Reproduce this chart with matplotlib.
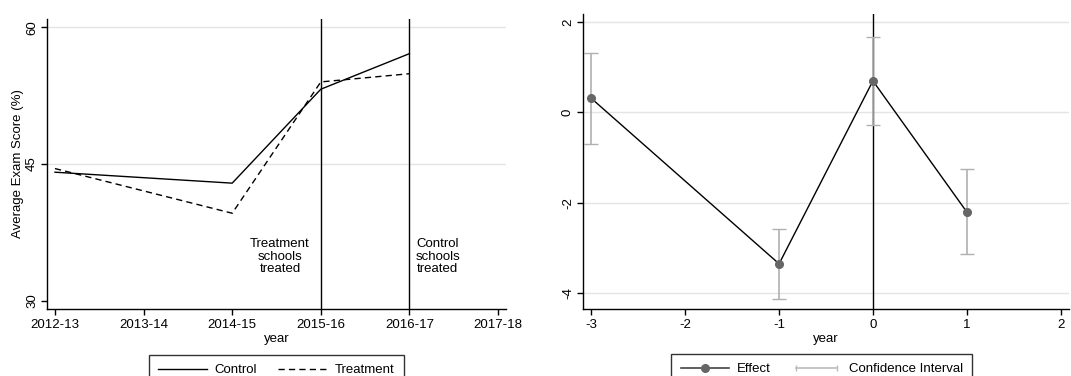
import matplotlib
matplotlib.use("Agg")
import matplotlib.pyplot as plt
from matplotlib.lines import Line2D
from matplotlib.legend_handler import HandlerLine2D

plt.rcParams['font.family'] = ['Liberation Sans', 'DejaVu Sans']
plt.rcParams['font.size'] = 9.5
plt.rcParams['axes.unicode_minus'] = False

# ---- Left panel data ----
years = ["2012-13", "2013-14", "2014-15", "2015-16", "2016-17", "2017-18"]
obs_years = ["2012-13", "2014-15", "2015-16", "2016-17"]
control = [44.1, 42.9, 53.2, 57.1]
treatment = [44.5, 39.6, 54.0, 54.9]
left_yticks = [30, 45, 60]
left_grid = [45, 60]
event_years = ["2015-16", "2016-17"]
event_labels = ["Treatment\nschools\ntreated", "Control\nschools\ntreated"]
event_label_x = [2.54, 4.32]
event_label_y = 34.85

# ---- Right panel data ----
rel_year = [-3, -1, 0, 1]
effect = [0.31, -3.35, 0.70, -2.20]
ci_low = [-0.70, -4.12, -0.27, -3.13]
ci_high = [1.32, -2.57, 1.67, -1.26]
right_xticks = [-3, -2, -1, 0, 1, 2]
right_yticks = [-4, -2, 0, 2]

fig = plt.figure(figsize=(10.71, 3.76), dpi=100)
ax1 = fig.add_axes([47/1071, 67/376, (506-47)/1071, (309-19)/376])
ax2 = fig.add_axes([583/1071, 67/376, (1069-583)/1071, (309-14)/376])

def style(ax):
    for s in ['top', 'right']:
        ax.spines[s].set_visible(False)
    for s in ['left', 'bottom']:
        ax.spines[s].set_linewidth(1.0)
        ax.spines[s].set_color('black')
    ax.tick_params(direction='out', length=4, width=1.0, colors='black', labelsize=9.5)
    ax.tick_params(axis='x', pad=3.5)
    ax.tick_params(axis='y', pad=2.5)

# Left
xpos = {y: i for i, y in enumerate(years)}
ox = [xpos[y] for y in obs_years]
for g in left_grid:
    ax1.axhline(g, color='#e4e4e4', lw=1.0, zorder=0)
ax1.plot(ox, control, color='black', lw=1.0, label='Control')
ax1.plot(ox, treatment, color='black', lw=1.0, dashes=(4.5, 3), label='Treatment')
for ev in event_years:
    ax1.axvline(xpos[ev], color='black', lw=1.0)
for lx, lt in zip(event_label_x, event_labels):
    ax1.text(lx, event_label_y, lt, ha='center', va='center', fontsize=9.5, linespacing=1.1)
ax1.set_xlim(-0.09, 5.09)
ax1.set_ylim(29.1, 60.9)
ax1.set_xticks(range(len(years)))
ax1.set_xticklabels(years)
ax1.set_yticks(left_yticks)
ax1.set_yticklabels([str(v) for v in left_yticks], rotation=90, va='center')
ax1.set_xlabel('year', labelpad=1)
ax1.set_ylabel('Average Exam Score (%)', labelpad=1.5)
style(ax1)

# Right
for g in right_yticks:
    ax2.axhline(g, color='#e4e4e4', lw=1.0, zorder=0)
ax2.axvline(0, color='black', lw=1.0, zorder=1)
yerr = [[e - l for e, l in zip(effect, ci_low)], [h - e for e, h in zip(effect, ci_high)]]
ax2.errorbar(rel_year, effect, yerr=yerr, fmt='none', ecolor='#b0b0b0', elinewidth=1.2,
             capsize=5, capthick=1.0, zorder=2)
ax2.plot(rel_year, effect, color='black', lw=1.0, zorder=3)
ax2.plot(rel_year, effect, 'o', color='#666666', ms=5.5, zorder=4)
ax2.set_xlim(-3.09, 2.09)
ax2.set_ylim(-4.35, 2.18)
ax2.set_xticks(right_xticks)
ax2.set_yticks(right_yticks)
ax2.set_yticklabels([str(v) for v in right_yticks], rotation=90, va='center')
ax2.set_xlabel('year', labelpad=1)
style(ax2)

# Legends
leg1 = fig.legend(handles=[Line2D([], [], color='black', lw=1.0, label='Control'),
                           Line2D([], [], color='black', lw=1.0, dashes=(4.5, 3), label='Treatment')],
                  loc='upper center', bbox_to_anchor=(276.5/1071, 1 - 355/376), ncol=2,
                  frameon=True, fancybox=False, edgecolor='black', handlelength=3.7,
                  handletextpad=0.6, columnspacing=1.6, borderpad=0.7, borderaxespad=0,
                  fontsize=9.5)
leg1.get_frame().set_linewidth(1.0)

eff_h = Line2D([], [], color='#444444', lw=1.2, marker='o', markerfacecolor='#666666',
               markeredgecolor='#666666', ms=5.5, label='Effect')
ci_h = Line2D([], [], color='#bbbbbb', lw=1.2, marker='|', ms=5, markeredgewidth=1.0,
              label='Confidence Interval')
leg2 = fig.legend(handles=[eff_h, ci_h], loc='upper center',
                  bbox_to_anchor=(821.8/1071, 1 - 354/376), ncol=2,
                  frameon=True, fancybox=False, edgecolor='black', handlelength=3.7,
                  handletextpad=0.6, columnspacing=1.6, borderpad=0.7, borderaxespad=0,
                  fontsize=9.5,
                  handler_map={ci_h: HandlerLine2D(numpoints=2), eff_h: HandlerLine2D(numpoints=1)})
leg2.get_frame().set_linewidth(1.0)

fig.savefig('out.png', dpi=100)
